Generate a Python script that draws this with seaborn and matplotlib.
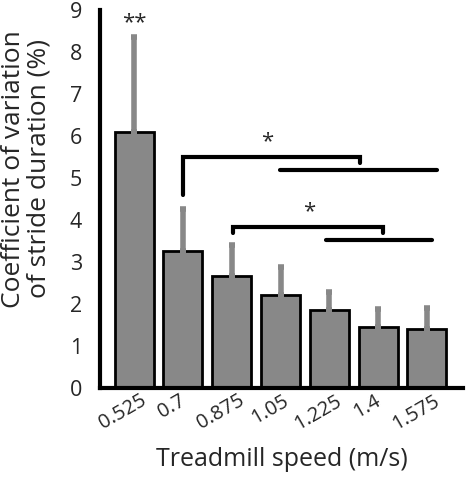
import matplotlib
matplotlib.use("Agg")
import matplotlib.pyplot as plt
import matplotlib.transforms as mtransforms
import seaborn as sns
import pandas as pd

# data
speeds = ["0.525", "0.7", "0.875", "1.05", "1.225", "1.4", "1.575"]
cv_mean = [6.10, 3.26, 2.67, 2.21, 1.86, 1.45, 1.41]
cv_sd = [2.26, 1.00, 0.73, 0.66, 0.42, 0.42, 0.49]

# significance brackets: (x_left, x_right, y, left drop, right drop)
brackets = [
    (1.0, 4.63, 5.50, 4.60, 5.36),
    (2.03, 5.09, 3.84, 3.69, 3.69),
]
bracket_lines = [(2.98, 6.2, 5.19), (3.94, 6.1, 3.52)]
stars = [(0, 8.45, "**"), (2.72, 5.62, "*"), (3.58, 3.95, "*")]

sns.set_style("white")
plt.rcParams["font.family"] = ["Open Sans", "DejaVu Sans"]

df = pd.DataFrame({"speed": speeds, "cv": cv_mean})

fig = plt.figure(figsize=(4.66, 4.78), dpi=100)
ax = fig.add_axes([0.2146, 0.1883, 0.7790, 0.7907])

sns.barplot(data=df, x="speed", y="cv", color="#888888", saturation=1,
            edgecolor="black", linewidth=2, width=0.8, errorbar=None, ax=ax)
ax.errorbar(range(len(speeds)), cv_mean, yerr=[[0] * len(cv_sd), cv_sd],
            fmt="none", ecolor="#888888", elinewidth=4, capsize=2.5,
            capthick=4, zorder=1)

for xl, xr, y, dl, dr in brackets:
    ax.plot([xl, xl, xr, xr], [dl, y, y, dr], color="black", lw=3,
            solid_joinstyle="miter", clip_on=False)
for xl, xr, y in bracket_lines:
    ax.plot([xl, xr], [y, y], color="black", lw=3)
for x, y, s in stars:
    ax.text(x, y, s, ha="center", va="bottom", fontsize=16)

ax.set_ylim(0, 9)
ax.set_xlim(-0.7, 6.74)
ax.set_yticks(range(10))
ax.tick_params(axis="y", direction="in", length=3, width=2, labelsize=15.5, pad=13)
ax.tick_params(axis="x", length=0, labelsize=14.5, pad=2)
shift = mtransforms.ScaledTranslation(-11 / 100, 0, fig.dpi_scale_trans)
for lbl in ax.get_xticklabels():
    lbl.set_rotation(30)
    lbl.set_ha("center")
    lbl.set_transform(lbl.get_transform() + shift)
for side in ["top", "right"]:
    ax.spines[side].set_visible(False)
for side in ["left", "bottom"]:
    ax.spines[side].set_linewidth(3)
    ax.spines[side].set_color("black")

ax.set_xlabel("Treadmill speed (m/s)", fontsize=18, va="center")
ax.set_ylabel("Coefficient of variation\nof stride duration (%)", fontsize=19,
              linespacing=1.0, va="center")
ax.xaxis.set_label_coords(0.5, -0.19)
ax.yaxis.set_label_coords(-0.203, 0.58)

plt.savefig("out.png", dpi=100)
